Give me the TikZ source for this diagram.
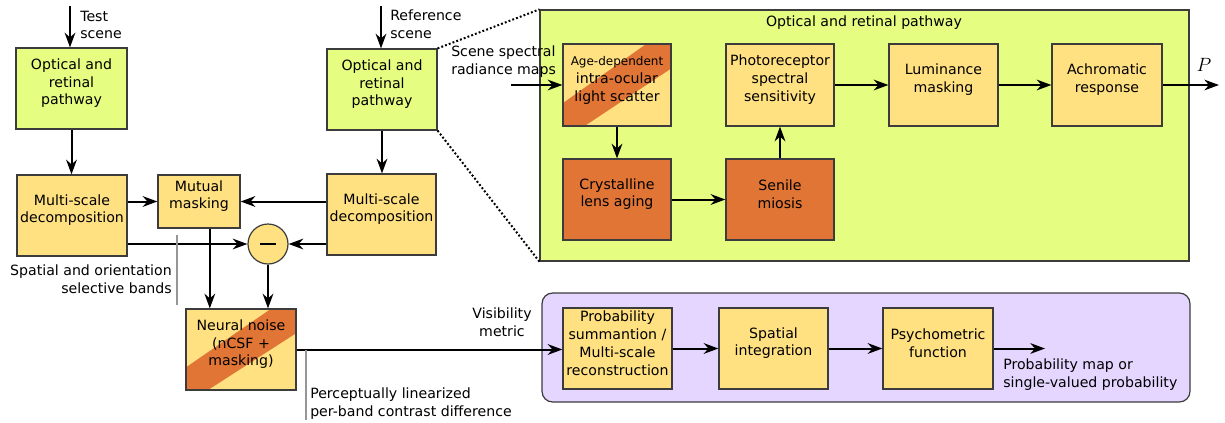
\documentclass[tikz,border=0pt]{standalone}
\usepackage{fontspec}
\setmainfont{DejaVu Sans}
\usetikzlibrary{arrows.meta,calc,fit}
\definecolor{gr}{RGB}{229,253,128}
\definecolor{yl}{RGB}{255,225,130}
\definecolor{orD}{RGB}{224,117,53}
\definecolor{pu}{RGB}{229,214,255}
\definecolor{bd}{RGB}{60,60,60}
\definecolor{lgray}{RGB}{150,150,150}
\tikzset{
  box/.style={draw=bd, line width=0.9pt, inner sep=0pt, align=center},
  greenbox/.style={box, fill=gr},
  yellowbox/.style={box, fill=yl},
  orangebox/.style={box, fill=orD},
  stripebox/.style={box, fill=yl, path picture={
    \fill[orD] (path picture bounding box.south west)
      -- ($(path picture bounding box.south west)!0.28!(path picture bounding box.north west)$)
      -- ($(path picture bounding box.north west)!0.77!(path picture bounding box.north east)$)
      -- (path picture bounding box.north east)
      -- ($(path picture bounding box.south east)!0.70!(path picture bounding box.north east)$)
      -- ($(path picture bounding box.south west)!0.2!(path picture bounding box.south east)$)
      -- cycle;}},
  circ/.style={circle, draw=bd, line width=0.9pt, fill=yl, minimum size=30pt, inner sep=0pt},
  arr/.style={line width=1.5pt, -{Stealth[length=11pt,width=8pt,inset=3.5pt]}},
  glin/.style={draw=lgray, line width=0.8pt},
  dots/.style={line width=1.5pt, dash pattern=on 1.4pt off 1.6pt},
  lab/.style={inner sep=0pt}
}
\begin{document}
\begin{tikzpicture}[x=0.75pt,y=-0.75pt, font=\fontsize{10.6}{13.4}\selectfont]
\useasboundingbox (0,0) rectangle (1225,422);

% left part
\node[greenbox, fit={(16,48)(127,129)}] (opt1) {Optical and\\retinal\\pathway};
\node[greenbox, fit={(327,49)(437,130)}] (opt2) {Optical and\\retinal\\pathway};
\node[yellowbox, fit={(17,175)(127,256)}] (ms1) {Multi-scale\\decomposition};
\node[yellowbox, fit={(327,174)(436,255)}] (ms2) {Multi-scale\\decomposition};
\node[yellowbox, fit={(158,175)(240,228)}] (mm) {Mutual\\masking};
\node[circ] (minus) at (268,244) {\rule{11.5pt}{1.8pt}};
\node[stripebox, fit={(186,309)(296,390)}] (nn) {Neural noise\\(nCSF +\\masking)};

\coordinate (tin) at (70,6);
\coordinate (rin) at (381,6);
\node[lab, anchor=west, align=left] (tlab) at (80,25) {Test\\scene};
\node[lab, anchor=west, align=left] (rlab) at (390,24) {Reference\\scene};
\draw[arr] (tin) -- (tin |- opt1.north);
\draw[arr] (rin) -- (rin |- opt2.north);
\draw[arr] (opt1.south) -- (opt1.south |- ms1.north);
\draw[arr] (opt2.south) -- (opt2.south |- ms2.north);
\draw[arr] (ms1.east |- mm.west) -- (mm.west);
\draw[arr] (ms2.west |- mm.east) -- (mm.east);
\draw[arr] (ms1.east |- minus.west) -- (minus.west);
\draw[arr] (ms2.west |- minus.east) -- (minus.east);
\coordinate (mmd) at ($(mm.south west)!0.63!(mm.south east)$);
\draw[arr] (mmd) -- (mmd |- nn.north);
\draw[arr] (minus.south) -- (minus.south |- nn.north);

\coordinate (g1a) at (177,235);
\coordinate (g1b) at (177,305);
\draw[glin] (g1a) -- (g1b);
\node[lab, anchor=east, align=right] (sob) at (172,279) {Spatial and orientation\\selective bands};

% bottom right
\node[draw=bd, line width=0.9pt, fill=pu, rounded corners=8pt, inner sep=0pt, fit={(542,293)(1190,402)}] (pur) {};
\node[yellowbox, fit={(563,308)(672,389)}] (prob) {Probability\\summantion /\\Multi-scale\\reconstruction};
\node[yellowbox, fit={(719,308)(828,389)}] (spat) {Spatial\\integration};
\node[yellowbox, fit={(883,308)(993,389)}] (psy) {Psychometric\\function};
\coordinate (pend) at (1045,348);
\draw[arr] (nn.east) -- (nn.east -| prob.west);
\draw[arr] (prob.east |- spat.west) -- (spat.west);
\draw[arr] (spat.east |- psy.west) -- (psy.west);
\draw[arr] (psy.east) -- (psy.east -| pend);
\node[lab, anchor=west, align=left] (plab) at (1003,375) {Probability map or\\single-valued probability};
\node[lab, align=center] (vis) at (502,322) {Visibility\\metric};
\coordinate (g2a) at (306,350);
\coordinate (g2b) at (306,420);
\draw[glin] (g2a) -- (g2b);
\node[lab, anchor=west, align=left] (plin) at (310,404) {Perceptually linearized\\per-band contrast difference};

% top right
\node[draw=bd, line width=0.9pt, fill=gr, inner sep=0pt, fit={(540,10)(1189,261)}] (big) {};
\node[lab] (title) at (864,23) {Optical and retinal pathway};
\draw[dots] (opt2.north east) -- (big.north west);
\draw[dots] (opt2.south east) -- (big.south west);
\node[stripebox, fit={(563,44)(671,126)}] (age) {{\fontsize{9}{10.5}\selectfont Age-dependent}\\intra-ocular\\light scatter};
\node[yellowbox, fit={(726,44)(834,126)}] (photo) {Photoreceptor\\spectral\\sensitivity};
\node[yellowbox, fit={(889,44)(998,126)}] (lum) {Luminance\\masking};
\node[yellowbox, fit={(1052,44)(1162,126)}] (ach) {Achromatic\\response};
\node[orangebox, fit={(563,159)(671,240)}] (cry) {Crystalline\\lens aging};
\node[orangebox, fit={(726,159)(834,240)}] (sen) {Senile\\miosis};
\node[lab, anchor=west, align=left] (slab) at (451,62) {Scene spectral\\radiance maps};
\coordinate (sin) at (511,85);
\coordinate (pout) at (1219,85);
\draw[arr] (sin) -- (sin -| age.west);
\draw[arr] (age.south) -- (age.south |- cry.north);
\draw[arr] (cry.east) -- (cry.east -| sen.west);
\draw[arr] (sen.north) -- (sen.north |- photo.south);
\draw[arr] (photo.east) -- (lum.west);
\draw[arr] (lum.east) -- (ach.west);
\draw[arr] (ach.east) -- (ach.east -| pout);
\node[lab] (plabel) at (1204,65) {\fontsize{15}{17}\selectfont $P$};
\end{tikzpicture}
\end{document}
